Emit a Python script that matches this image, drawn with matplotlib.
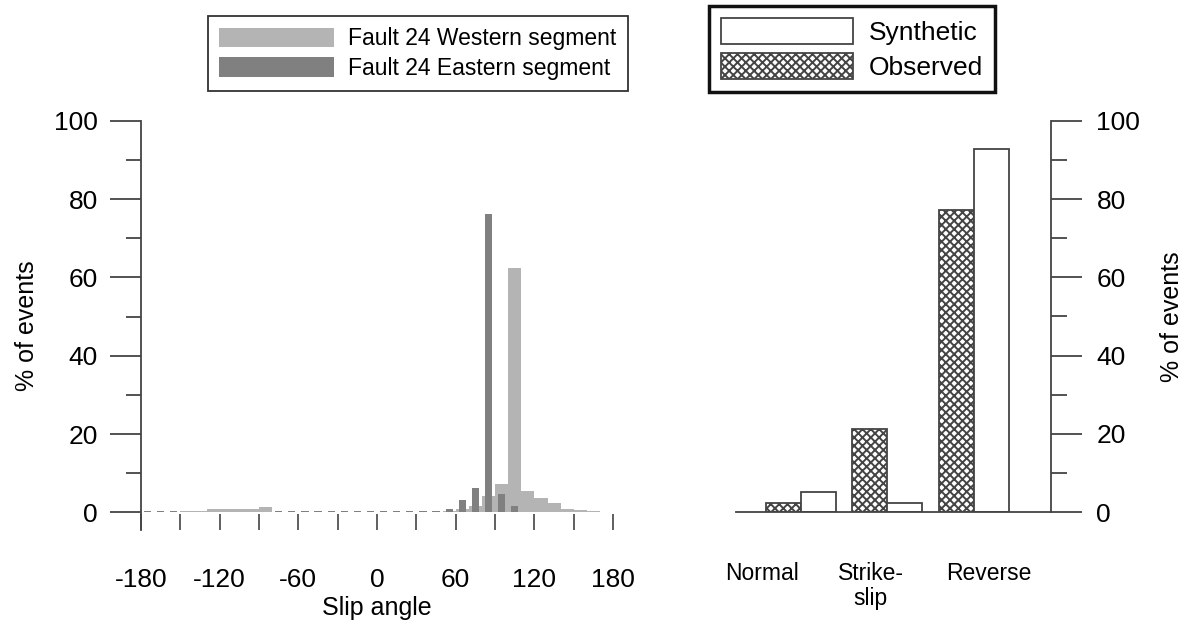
import numpy as np
import matplotlib
matplotlib.use('Agg')
import matplotlib.pyplot as plt
from matplotlib.patches import Patch

plt.rcParams['font.family'] = ['Liberation Sans', 'DejaVu Sans']
plt.rcParams['hatch.linewidth'] = 1.4
plt.rcParams['hatch.color'] = '#222222'

# slip angle histogram, 10 degree bins from -180 to 180
bin_centers = np.arange(-175, 180, 10)
western = [0, 0, 0, 0.4, 0.4, 0.9, 0.9, 0.9, 0.9, 1.4,
           0, 0, 0, 0, 0, 0, 0, 0, 0, 0, 0, 0, 0,
           0.3, 1.0, 1.6, 4.2, 7.2, 62.5, 5.6, 3.8, 2.3, 0.8, 0.5, 0.3, 0]
eastern = [0.4, 0.4, 0.4, 0, 0, 0, 0, 0, 0, 0,
           0.4, 0.4, 0.4, 0.4, 0.4, 0.4, 0.4, 0.4, 0.4, 0.4, 0.4, 0.4, 0.4,
           0.8, 3.1, 6.3, 76.2, 4.8, 1.7, 0, 0, 0, 0, 0, 0, 0]
xticks_left = [-180, -150, -120, -90, -60, -30, 0, 30, 60, 90, 120, 150, 180]
xlabels_left = ['-180', '', '-120', '', '-60', '', '0', '', '60', '', '120', '', '180']

# mechanism types
mechanisms = ['Normal', 'Strike-\nslip', 'Reverse']
observed = [2.3, 21.3, 77.2]
synthetic = [5.2, 2.3, 92.8]

LIGHT = '#b4b4b4'
DARK = '#808080'

fig = plt.figure(figsize=(11.9, 6.24), dpi=100)

# ---- left panel: slip angle histogram
ax1 = fig.add_axes([0.1185, 0.1505, 0.3967, 0.6561])
ax1.bar(bin_centers, western, width=10, color=LIGHT, linewidth=0, label='Fault 24 Western segment')
ax1.bar(bin_centers, eastern, width=5.5, color=DARK, linewidth=0, label='Fault 24 Eastern segment')
ax1.set_xlim(-180, 180)
ax1.set_ylim(-4.5, 100)
for s in ['top', 'right', 'bottom']:
    ax1.spines[s].set_visible(False)
ax1.spines['left'].set_color('#444444')
ax1.spines['left'].set_linewidth(1.3)
ax1.set_xticks(xticks_left)
ax1.set_xticklabels(xlabels_left)
ax1.tick_params(axis='x', direction='in', length=11.5, width=1.2, color='#444444', pad=27, labelsize=19)
ax1.set_yticks(np.arange(0, 101, 20))
ax1.set_yticks(np.arange(10, 100, 20), minor=True)
ax1.tick_params(axis='y', which='major', direction='out', length=22, width=1.3, color='#444444', pad=9, labelsize=19)
ax1.tick_params(axis='y', which='minor', direction='out', length=10.5, width=1.3, color='#444444')
ax1.set_xlabel('Slip angle', fontsize=18, labelpad=3)
ax1.set_ylabel('% of events', fontsize=18, labelpad=11)

leg1 = fig.legend(handles=[Patch(facecolor=LIGHT, edgecolor='none'), Patch(facecolor=DARK, edgecolor='none')],
                  labels=['Fault 24 Western segment', 'Fault 24 Eastern segment'],
                  loc='upper left', bbox_to_anchor=(208 / 1190, 1 - 16 / 624), fontsize=16.5,
                  handlelength=5.0, handleheight=0.95, handletextpad=0.6, labelspacing=0.28,
                  borderpad=0.5, borderaxespad=0, fancybox=False, framealpha=1)
leg1.get_frame().set_edgecolor('#333333')
leg1.get_frame().set_linewidth(1.3)

# ---- right panel: mechanism comparison
ax2 = fig.add_axes([0.6185, 0.179, 0.2644, 0.6276])
pos = np.arange(len(mechanisms))
w = 0.404
ax2.bar(pos - w / 2, observed, width=w, facecolor='white', edgecolor='#444444', hatch='xxxx', linewidth=1.3)
ax2.bar(pos + w / 2, synthetic, width=w, facecolor='white', edgecolor='#444444', linewidth=1.3)
ax2.set_xlim(-0.747, 2.885)
ax2.set_ylim(0, 100)
ax2.spines['top'].set_visible(False)
ax2.spines['left'].set_visible(False)
ax2.spines['right'].set_color('#444444')
ax2.spines['bottom'].set_color('#444444')
ax2.spines['right'].set_linewidth(1.3)
ax2.spines['bottom'].set_linewidth(1.3)
ax2.yaxis.tick_right()
ax2.yaxis.set_label_position('right')
ax2.set_yticks(np.arange(0, 101, 20))
ax2.set_yticks(np.arange(10, 100, 20), minor=True)
ax2.tick_params(axis='y', which='major', direction='out', length=22, width=1.3, color='#444444', pad=11, labelsize=19)
ax2.tick_params(axis='y', which='minor', direction='out', length=11.5, width=1.3, color='#444444')
ax2.set_xticks([-0.45, 0.81, 2.17])
ax2.set_xticklabels(mechanisms, fontsize=16.5, va='top', linespacing=1.1)
ax2.tick_params(axis='x', length=0, pad=36)
ax2.set_ylabel('% of events', fontsize=18, labelpad=14)

leg2 = fig.legend(handles=[Patch(facecolor='white', edgecolor='#444444', linewidth=1.3),
                           Patch(facecolor='white', edgecolor='#444444', hatch='xxxx', linewidth=1.3)],
                  labels=['Synthetic', 'Observed'],
                  loc='upper left', bbox_to_anchor=(709 / 1190, 1 - 6 / 624), fontsize=19,
                  handlelength=5.0, handleheight=1.15, handletextpad=0.6, labelspacing=0.3,
                  borderpad=0.45, borderaxespad=0, fancybox=False, framealpha=1)
leg2.get_frame().set_edgecolor('#111111')
leg2.get_frame().set_linewidth(2.5)

fig.savefig('out.png', dpi=100)
